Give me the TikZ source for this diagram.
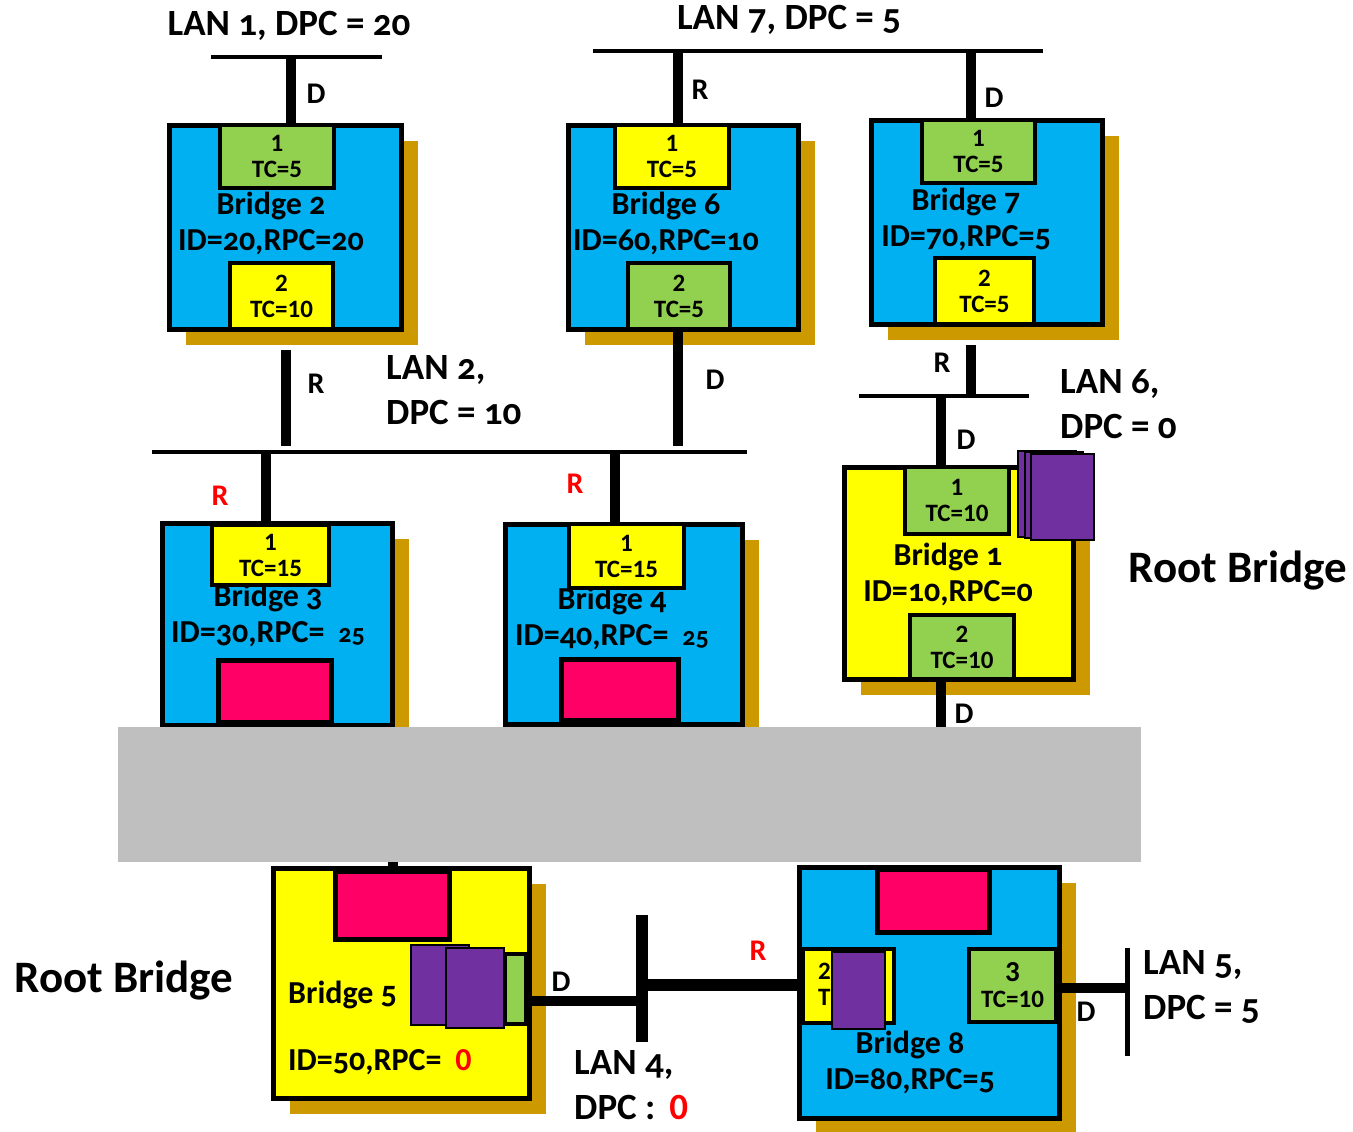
\documentclass[tikz,border=0pt]{standalone}
\usepackage{fontspec}
\setmainfont{Carlito}[Numbers=OldStyle]
\newfontfamily\liningfamily{Carlito}[Numbers=Lining]
\usepackage{tikz}
\usepackage{xcolor}
\usetikzlibrary{positioning, calc, shadows}
\definecolor{bridgeBlue}{HTML}{00B0F0}
\definecolor{portYellow}{HTML}{FFFF00}
\definecolor{portGreen}{HTML}{92D050}
\definecolor{shadowGold}{HTML}{CC9900}
\definecolor{blockedRed}{HTML}{FF0066}
\definecolor{blockPurple}{HTML}{7030A0}
\definecolor{maskGray}{HTML}{BFBFBF}
\newcommand{\lanfont}{\fontsize{37}{45}\selectfont\bfseries}
\newcommand{\bridgefont}{\fontsize{32}{36}\selectfont\bfseries}
\newcommand{\portfont}{\liningfamily\fontsize{25}{26}\selectfont\bfseries}
\newcommand{\rolefont}{\fontsize{30}{30}\selectfont\bfseries}
\newcommand{\rootfont}{\fontsize{45}{48}\selectfont\bfseries}
\tikzstyle{bridge} = [rectangle, draw=black, line width=5pt, fill=bridgeBlue, anchor=north west, inner sep=0pt, drop shadow={shadow xshift=16pt, shadow yshift=-15pt, fill=shadowGold, opacity=1}]
\tikzstyle{port} = [rectangle, draw=black, line width=4pt, anchor=north west, inner sep=0pt, align=center, font=\portfont]
\tikzstyle{blocked} = [rectangle, draw=black, line width=5pt, fill=blockedRed, anchor=north west, inner sep=0pt]
\tikzstyle{purpleblock} = [rectangle, draw=black, line width=2pt, fill=blockPurple, anchor=north west, inner sep=0pt]
\tikzstyle{lan} = [line width=4pt]
\tikzstyle{link} = [line width=10pt]
\tikzstyle{lanlabel} = [font=\lanfont, anchor=west, align=left, inner sep=0pt]
\tikzstyle{bridgelabel} = [font=\bridgefont, align=center, inner sep=0pt]
\tikzstyle{role} = [font=\rolefont, inner sep=0pt]

\begin{document}
\begin{tikzpicture}[x=1pt, y=-1pt]
\useasboundingbox (0,0) rectangle (1353,1132);

% LAN segments
\coordinate (lan1w) at (211,57);  \coordinate (lan1e) at (382,57);
\coordinate (lan7w) at (593,51);  \coordinate (lan7e) at (1043,51);
\coordinate (lan2w) at (152,452); \coordinate (lan2e) at (747,452);
\coordinate (lan6w) at (859,396); \coordinate (lan6e) at (1029,396);
\coordinate (lan4n) at (642,915); \coordinate (lan4s) at (642,1042);
\coordinate (lan5n) at (1127,948); \coordinate (lan5s) at (1127,1056);
\draw [lan] (lan1w) -- (lan1e);
\draw [lan] (lan7w) -- (lan7e);
\draw [lan] (lan2w) -- (lan2e);
\draw [lan] (lan6w) -- (lan6e);
\draw [line width=12pt] (lan4n) -- (lan4s);
\draw [line width=5pt] (lan5n) -- (lan5s);

% Taps
\coordinate (tap1) at (291,57);
\coordinate (tap7a) at (678,51);
\coordinate (tap7b) at (971,51);
\coordinate (tap2a) at (286,446);
\coordinate (tap2b) at (678,446);
\coordinate (tap2c) at (266,452);
\coordinate (tap2d) at (615,452);
\coordinate (tap6a) at (971,396);
\coordinate (tap6b) at (941,396);
\coordinate (down1) at (941,735);
\coordinate (down4) at (595,735);
\coordinate (up5) at (393,855);

% Bridges
\node (b2) [bridge, minimum width=232pt, minimum height=204pt] at (167,123) {};
\node (b6) [bridge, minimum width=230pt, minimum height=204pt] at (566,123) {};
\node (b7) [bridge, minimum width=231pt, minimum height=204pt] at (869,118) {};
\node (b1) [bridge, fill=portYellow, minimum width=229pt, minimum height=212pt] at (842,465) {};
\node (b3) [bridge, minimum width=230pt, minimum height=202pt] at (160,521) {};
\node (b4) [bridge, minimum width=237pt, minimum height=200pt] at (503,522) {};
\node (b5) [bridge, fill=portYellow, minimum width=256pt, minimum height=230pt] at (271,866) {};
\node (b8) [bridge, minimum width=260pt, minimum height=251pt] at (797,865) {};

% Links
\draw [link] (tap1) -- (tap1 |- b2.north);
\draw [link] (tap7a) -- (tap7a |- b6.north);
\draw [link] (tap7b) -- (tap7b |- b7.north);
\draw [link] (tap2a |- b2.south) ++(0,18) -- (tap2a);
\draw [link] (tap2b |- b6.south) -- (tap2b);
\draw [link] (tap2c) -- (tap2c |- b3.north);
\draw [link] (tap2d) -- (tap2d |- b4.north);
\draw [link] (tap6a |- b7.south) ++(0,18) -- (tap6a);
\draw [link] (tap6b) -- (tap6b |- b1.north);
\draw [link] (down1 |- b1.south) -- (down1);
\draw [link] (down4 |- b4.south) -- (down4);
\draw [link] (up5) -- (up5 |- b5.north);
\draw [link] (b5.east |- 0,1001) -- (lan4n |- 0,1001);
\draw [line width=12pt] (lan4n |- 0,985) -- (b8.west |- 0,985);
\draw [link] (b8.east |- 0,988) -- (lan5n |- 0,988);

% Ports
\node (b2p1) [port, fill=portGreen, minimum width=114pt, minimum height=63pt] at (218,123) {1\\TC=5};
\node (b2p2) [port, fill=portYellow, minimum width=103pt, minimum height=66pt] at (228,261) {2\\TC=10};
\node (b6p1) [port, fill=portYellow, minimum width=114pt, minimum height=63pt] at (613,123) {1\\TC=5};
\node (b6p2) [port, fill=portGreen, minimum width=102pt, minimum height=66pt] at (626,261) {2\\TC=5};
\node (b7p1) [port, fill=portGreen, minimum width=113pt, minimum height=63pt] at (920,118) {1\\TC=5};
\node (b7p2) [port, fill=portYellow, minimum width=99pt, minimum height=66pt] at (933,256) {2\\TC=5};
\node (b1p1) [port, fill=portGreen, minimum width=104pt, minimum height=67pt] at (903,465) {1\\TC=10};
\node (b1p2) [port, fill=portGreen, minimum width=104pt, minimum height=64pt] at (908,613) {2\\TC=10};
\node (b3p1) [port, fill=portYellow, minimum width=117pt, minimum height=60pt] at (210,523) {1\\TC=15};
\node (b4p1) [port, fill=portYellow, minimum width=115pt, minimum height=64pt] at (567,522) {1\\TC=15};
\node (b5p2) [port, fill=portGreen, minimum width=21pt, minimum height=70pt] at (503,952) {};
\node (b8p2) [port, fill=portYellow, minimum width=91pt, minimum height=74pt] at (801,947) {};
\node (b8p2txt) [font=\portfont, align=left, anchor=west, inner sep=0pt] at (818,984) {2\\T};
\node (b8p3) [port, fill=portGreen, minimum width=87pt, minimum height=73pt] at (967,947) {{\fontsize{29}{26}\selectfont 3}\\TC=10};

% Blocked ports
\node (b3x) [blocked, minimum width=113pt, minimum height=62pt] at (216,658) {};
\node (b4x) [blocked, minimum width=117pt, minimum height=61pt] at (559,657) {};
\node (b5x) [blocked, minimum width=114pt, minimum height=68pt] at (333,869) {};
\node (b8x) [blocked, minimum width=112pt, minimum height=63pt] at (875,867) {};
\node (b1q1) [purpleblock, minimum width=58pt, minimum height=86pt] at (1017,450) {};
\node (b1q2) [purpleblock, minimum width=58pt, minimum height=86pt] at (1024,451) {};
\node (b1q3) [purpleblock, minimum width=63pt, minimum height=86pt] at (1030,453) {};
\node (b5q1) [purpleblock, minimum width=58pt, minimum height=80pt] at (410,944) {};
\node (b5q2) [purpleblock, minimum width=58pt, minimum height=80pt] at (445,947) {};
\node (b8q1) [purpleblock, minimum width=53pt, minimum height=77pt] at (831,951) {};

% Bridge texts
\node (b2txt) [bridgelabel] at (271,223) {Bridge 2\\ID=20,RPC=20};
\node (b6txt) [bridgelabel] at (666,223) {Bridge 6\\ID=60,RPC=10};
\node (b7txt) [bridgelabel] at (966,219) {Bridge 7\\ID=70,RPC=5};
\node (b1txt) [bridgelabel] at (948,574) {Bridge 1\\ID=10,RPC=0};
\node (b3txt) [bridgelabel] at (268,615) {Bridge 3\\ID=30,RPC=\hspace{14pt}{\fontsize{26}{26}\selectfont 25}};
\node (b4txt) [bridgelabel] at (612,618) {Bridge 4\\ID=40,RPC=\hspace{14pt}{\fontsize{26}{26}\selectfont 25}};
\node (b5txt) [bridgelabel, align=left, anchor=west] at (288,1028) {Bridge 5\\[31pt]ID=50,RPC=\hspace{14pt}\textcolor{red}{\liningfamily 0}};
\node (b8txt) [bridgelabel] at (910,1062) {Bridge 8\\ID=80,RPC=5};

% LAN texts
\node (lan1txt) [font=\lanfont, inner sep=0pt] at (289,26) {LAN 1, DPC = 20};
\node (lan7txt) [font=\lanfont, inner sep=0pt] at (789,20) {LAN 7, DPC = 5};
\node (lan2txt) [lanlabel] at (386,390) {LAN 2,\\DPC = 10};
\node (lan6txt) [lanlabel] at (1060,404) {LAN 6,\\DPC = 0};
\node (lan4txt) [lanlabel] at (574,1085) {LAN 4,\\DPC :\hspace{14pt}\textcolor{red}{\liningfamily 0}};
\node (lan5txt) [lanlabel] at (1143,987) {LAN 5,\\DPC = 5};
\node (root1) [font=\rootfont, inner sep=0pt] at (1238,571) {Root Bridge};
\node (root5) [font=\rootfont, inner sep=0pt] at (124,981) {Root Bridge};

% Port roles
\node (r1) [role] at (316,94) {D};
\node (r2) [role] at (700,90) {R};
\node (r3) [role] at (994,98) {D};
\node (r4) [role] at (316,384) {R};
\node (r5) [role] at (715,380) {D};
\node (r6) [role] at (942,363) {R};
\node (r7) [role] at (966,440) {D};
\node (r8) [role, text=red] at (220,496) {R};
\node (r9) [role, text=red] at (575,484) {R};
\node (r10) [role] at (964,714) {D};
\node (r11) [role] at (561,982) {D};
\node (r12) [role, text=red] at (758,951) {R};
\node (r13) [role] at (1086,1012) {D};

% Cover
\node (mask) [fill=maskGray, anchor=north west, inner sep=0pt, minimum width=1023pt, minimum height=135pt] at (118,727) {};

\end{tikzpicture}
\end{document}
